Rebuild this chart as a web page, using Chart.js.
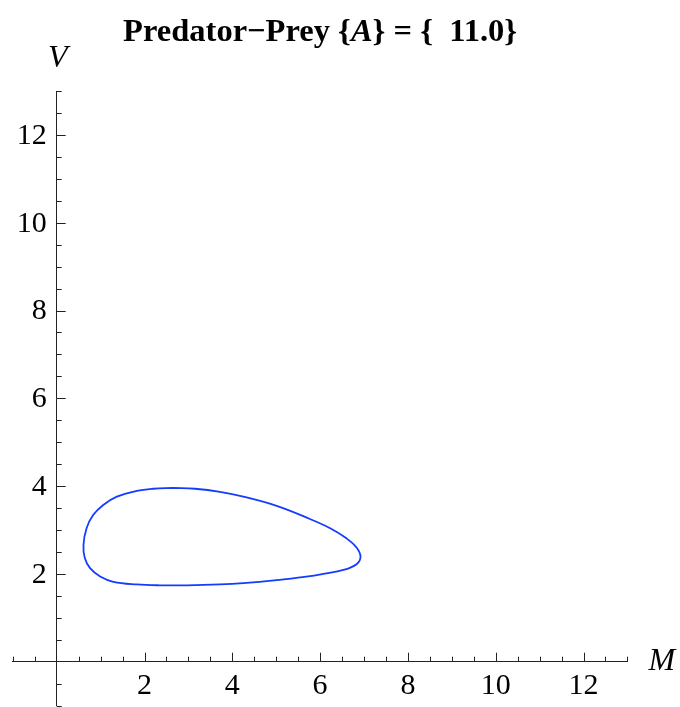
<!DOCTYPE html>
<html>
<head>
<meta charset="utf-8">
<script src="https://cdn.jsdelivr.net/npm/chart.js@4"></script>
<style>
  body { margin: 0; background: #fff; }
</style>
</head>
<body>
<canvas id="pp" width="680" height="707"></canvas>
<script>
// orbit, M (prey) and V (predator); starts and ends on the flat top
const preyM = [2.65, 2.20, 1.82, 1.37, 1.06, 0.83, 0.68, 0.61, 0.64, 0.76, 0.99, 1.29, 1.82, 2.35, 2.96, 3.72,
               4.25, 5.01, 5.77, 6.53, 6.83, 6.92, 6.83, 6.60, 6.23, 5.77, 5.01, 4.25, 3.72, 3.15, 2.65];
const predV = [3.96, 3.94, 3.89, 3.76, 3.57, 3.34, 3.04, 2.66, 2.36, 2.13, 1.94, 1.82, 1.76, 1.74, 1.74, 1.76,
               1.79, 1.86, 1.95, 2.09, 2.22, 2.39, 2.60, 2.81, 3.04, 3.25, 3.55, 3.76, 3.87, 3.94, 3.96];
const xTickLabels = [2, 4, 6, 8, 10, 12];
const yTickLabels = [2, 4, 6, 8, 10, 12];

const serif = '"Liberation Serif", "DejaVu Serif", serif';
const axisColor = '#222';

const points = preyM.map((m, i) => ({ x: m, y: predV[i] }));

// mathematica style axes: ticks point inward, minor every 0.5
const axesPlugin = {
  id: 'mmaAxes',
  afterDraw(chart) {
    const ctx = chart.ctx;
    const xs = chart.scales.x, ys = chart.scales.y;
    const x0 = xs.getPixelForValue(0), y0 = ys.getPixelForValue(0);
    ctx.save();
    ctx.strokeStyle = axisColor;
    ctx.lineWidth = 1;
    ctx.beginPath();
    for (let v = -1; v <= 13.001; v += 0.5) {
      if (v === 0) continue;
      const len = (v > 0 && v % 2 === 0) ? 9 : 5;
      const px = Math.round(xs.getPixelForValue(v)) + 0.5;
      ctx.moveTo(px, y0);
      ctx.lineTo(px, y0 - len);
      const py = Math.round(ys.getPixelForValue(v)) + 0.5;
      ctx.moveTo(x0, py);
      ctx.lineTo(x0 + len, py);
    }
    ctx.stroke();

    // tick labels
    ctx.fillStyle = '#000';
    ctx.font = '30px ' + serif;
    ctx.textAlign = 'center';
    ctx.textBaseline = 'top';
    xTickLabels.forEach(v => ctx.fillText(String(v), xs.getPixelForValue(v), y0 + 9));
    ctx.textAlign = 'right';
    ctx.textBaseline = 'middle';
    yTickLabels.forEach(v => ctx.fillText(String(v), x0 - 10, ys.getPixelForValue(v) + 1));

    // axis labels
    ctx.font = 'italic 32px ' + serif;
    ctx.textBaseline = 'alphabetic';
    ctx.textAlign = 'center';
    ctx.fillText('V', x0 + 1, 67);
    ctx.textAlign = 'left';
    ctx.fillText('M', xs.getPixelForValue(13) + 21, y0 + 8);

    // title with italic A
    const parts = [
      ['bold ', 'Predator\u2212Prey {'],
      ['italic bold ', 'A'],
      ['bold ', '} = {  11.0}']
    ];
    const fs = '32.5px ';
    let total = 0;
    parts.forEach(p => { ctx.font = p[0] + fs + serif; total += ctx.measureText(p[1]).width; });
    let cx = (chart.chartArea.left + chart.chartArea.right) / 2 - total / 2;
    ctx.textAlign = 'left';
    parts.forEach(p => {
      ctx.font = p[0] + fs + serif;
      ctx.fillText(p[1], cx, 41);
      cx += ctx.measureText(p[1]).width;
    });
    ctx.restore();
  }
};

new Chart(document.getElementById('pp'), {
  type: 'scatter',
  data: {
    datasets: [{
      label: 'orbit',
      data: points,
      showLine: true,
      tension: 0.4,
      borderColor: 'rgb(20,60,255)',
      borderWidth: 1.8,
      pointRadius: 0,
      fill: false
    }]
  },
  options: {
    responsive: false,
    animation: false,
    layout: { padding: { left: 12.8, right: 52.6, top: 91, bottom: 1.4 } },
    plugins: { legend: { display: false }, tooltip: { enabled: false }, title: { display: false } },
    scales: {
      x: {
        type: 'linear',
        min: -1, max: 13,
        position: { y: 0 },
        grid: { drawOnChartArea: false, drawTicks: false },
        border: { color: axisColor, width: 1 },
        ticks: { display: false }
      },
      y: {
        type: 'linear',
        min: -1, max: 13,
        position: { x: 0 },
        grid: { drawOnChartArea: false, drawTicks: false },
        border: { color: axisColor, width: 1 },
        ticks: { display: false }
      }
    }
  },
  plugins: [axesPlugin]
});
</script>
</body>
</html>
